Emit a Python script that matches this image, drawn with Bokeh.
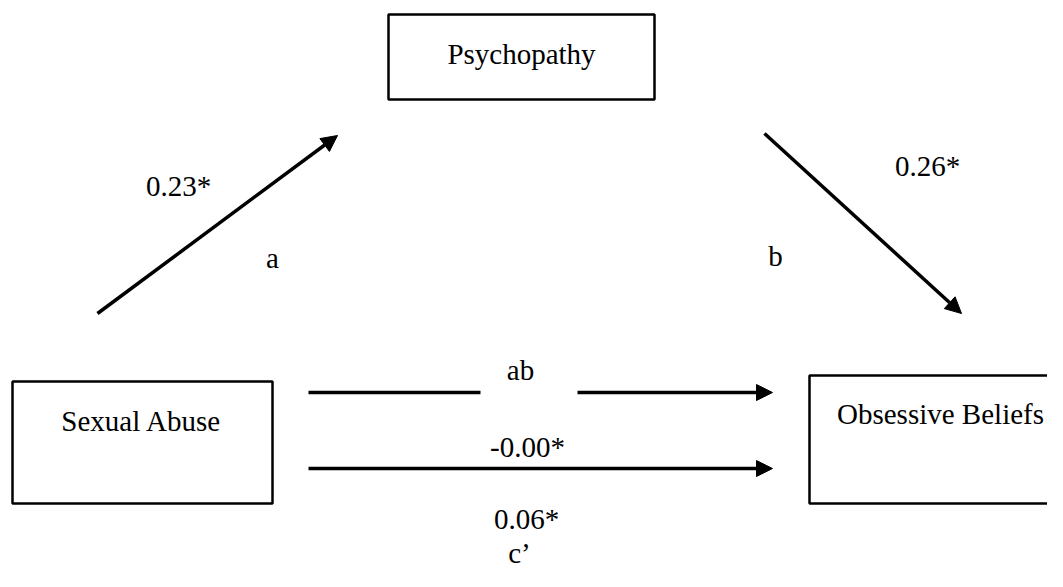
from bokeh.plotting import figure
from bokeh.models import Range1d, Arrow, NormalHead
from bokeh.core.properties import value
from bokeh.embed import file_html
from bokeh.resources import INLINE

# ---- data (text content of the mediation diagram) ----
node_names = ["Psychopathy", "Sexual Abuse", "Obsessive Beliefs"]
path_names = ["a", "b", "ab", "c\u2019"]
coefficients = ["0.23*", "0.26*", "-0.00*", "0.06*"]

# ---- layout (pixel coordinates) ----
W, H = 1047, 571
p = figure(width=W, height=H, output_backend="svg", toolbar_location=None,
           x_range=Range1d(0, W), y_range=Range1d(H, 0),
           min_border=0)
p.axis.visible = False
p.grid.visible = False
p.outline_line_color = None
p.background_fill_color = "white"
p.border_fill_color = "white"

FONT = value("Liberation Serif")
FS = "29px"

# boxes
box_left = [388, 12, 809]
box_right = [654, 272, 1080]
box_top = [14, 381, 375]
box_bottom = [99, 503, 503]
p.quad(left=box_left, right=box_right, top=box_top, bottom=box_bottom,
       fill_color=None, line_color="black", line_width=2.5)

# box labels
p.text(x=[521, 141, 940], y=[53, 420, 413], text=node_names,
       text_font=FONT, text_font_size=FS, text_color="black",
       text_align="center", text_baseline="alphabetic")

# arrows
LW = 3.5
def arrow(x0, y0, x1, y1):
    p.add_layout(Arrow(end=NormalHead(size=16, fill_color="black", line_color="black", line_width=1),
                       x_start=x0, y_start=y0, x_end=x1, y_end=y1,
                       line_color="black", line_width=LW))

arrow(97, 313, 337, 135)    # a
arrow(764, 133, 961, 313)   # b
p.segment(x0=[308], y0=[392], x1=[480], y1=[392], line_color="black", line_width=LW)
arrow(577, 392, 772, 392)   # ab
arrow(308, 468, 772, 468)   # c'

# path labels
p.text(x=[272, 775, 520, 519], y=[257, 255, 369, 552], text=path_names,
       text_font=FONT, text_font_size=FS, text_color="black",
       text_align="center", text_baseline="alphabetic")

# coefficients
p.text(x=[178, 927, 527, 526], y=[185, 165, 446, 518], text=coefficients,
       text_font=FONT, text_font_size=FS, text_color="black",
       text_align="center", text_baseline="alphabetic")

open("out.html", "w").write(file_html(p, INLINE))
